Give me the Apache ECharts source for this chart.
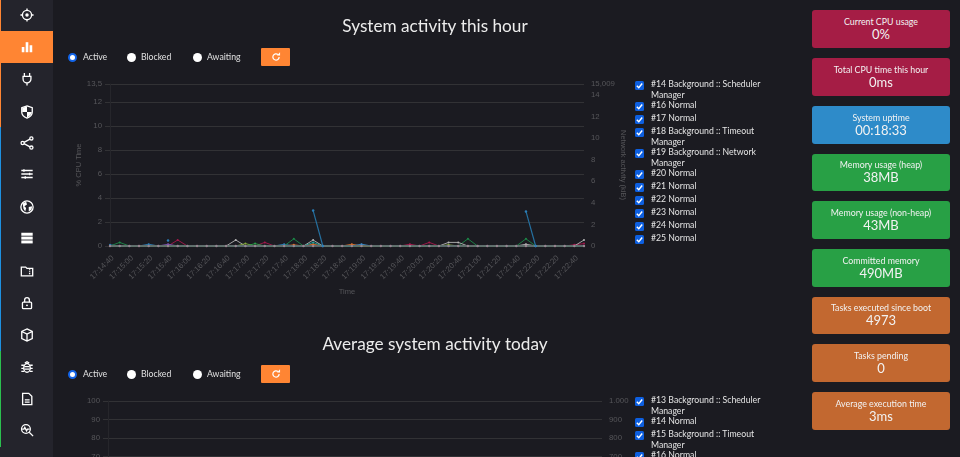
<!DOCTYPE html>
<html><head><meta charset="utf-8">
<script src="https://cdn.jsdelivr.net/npm/echarts@6/dist/echarts.min.js"></script>
<style>
html,body{margin:0;padding:0;width:960px;height:457px;overflow:hidden;background:#1b1b21;font-family:Lato,"Noto Sans",sans-serif;color:#e6e6e6}
#side{position:absolute;left:0;top:0;width:53px;height:457px;background:#24242c}
.strip{position:absolute;left:0;width:1px}
.active{position:absolute;left:0;top:31px;width:53px;height:32px;background:#ff8533}
.ic{position:absolute;left:19.5px;width:14px;height:14px}
.ic *{fill:none;stroke:#fff;stroke-width:1.5}
.ic .f{fill:#fff;stroke:none}
#c1,#c2{position:absolute;left:0;width:960px}
#c1{top:0;height:320px}
#c2{top:320px;height:340px}
.radio{position:absolute;width:9px;height:9px;border-radius:50%;background:#fff}
.radio.on{border:2px solid #1264e8;width:5px;height:5px}
.rl{position:absolute;font-size:8.7px;line-height:12px;color:#e0e0e0}
.btn{position:absolute;left:261px;width:29px;height:18px;background:#ff8533;border-radius:1px}
.btn svg{position:absolute;left:9.5px;top:4px;width:10px;height:10px}
.legend{position:absolute;left:635px;width:138px}
.row{position:relative;min-height:13px;padding-left:16px;font-size:8.7px;line-height:10.5px;color:#e4e4e4}
.cb{position:absolute;left:0;top:2px;width:9px;height:9px;background:#0d5fe0;border-radius:1.5px}
.cb svg{position:absolute;left:0;top:0;width:9px;height:9px}
.card{position:absolute;left:812px;width:138px;height:37.5px;border-radius:3px;text-align:center;color:#f2f2f2}
.card .t{font-size:8.8px;line-height:11px;padding-top:5.5px}
.card .v{font-size:13px;line-height:15px}
</style></head><body>
<div id="c1"></div><div id="c2"></div>
<div id="side"></div>
<div id="controls"></div>
<div id="legend1" class="legend" style="top:79px"></div>
<div id="legend2" class="legend" style="top:395px"></div>
<div id="cards"></div>
<script>
const categories = ['17:14:40','17:14:50','17:15:00','17:15:10','17:15:20','17:15:30','17:15:40','17:15:50','17:16:00','17:16:10','17:16:20','17:16:30','17:16:40','17:16:50','17:17:00','17:17:10','17:17:20','17:17:30','17:17:40','17:17:50','17:18:00','17:18:10','17:18:20','17:18:30','17:18:40','17:18:50','17:19:00','17:19:10','17:19:20','17:19:30','17:19:40','17:19:50','17:20:00','17:20:10','17:20:20','17:20:30','17:20:40','17:20:50','17:21:00','17:21:10','17:21:20','17:21:30','17:21:40','17:21:50','17:22:00','17:22:10','17:22:20','17:22:30','17:22:40','17:22:50'];
const t14 = [.1,0,0,0,.15,0,0,0,0,0,0,0,0,0,0,0,0,0,.15,0,0,0,0,0,0,0,0,0,0,0,0,0,0,0,0,0,0,0,0,0,0,0,0,0,0,0,0,0,0,0];
const t16 = [0,.3,0,0,0,0,0,0,0,0,0,0,0,0,0,0,0,0,0,.6,0,0,0,0,0,0,0,0,0,0,0,0,0,0,0,0,0,.6,0,0,0,0,0,.6,0,0,0,0,0,0];
const t17 = [0,0,0,0,0,0,0,.5,0,0,0,0,0,0,0,0,.3,0,0,0,0,0,0,0,0,0,0,0,0,0,0,.15,0,.3,0,0,0,0,0,0,0,0,0,0,0,0,0,0,.1,.2];
const t18 = [0,0,0,0,0,0,.15,0,0,0,0,0,0,0,0,0,0,0,0,0,0,0,0,0,0,0,0,0,0,0,0,0,0,0,0,0,0,0,0,0,0,0,0,0,0,0,0,0,0,0];
const t19 = [0,0,0,0,0,0,0,0,0,0,0,0,0,.5,0,0,0,0,0,0,0,.5,0,0,0,0,0,0,0,0,0,0,0,0,0,.3,.3,0,0,0,0,0,0,.15,0,0,0,0,0,.5];
const t20 = [0,0,0,0,0,0,0,0,0,0,0,0,0,0,.2,0,0,0,0,0,0,0,0,0,0,0,0,0,0,0,0,0,0,0,0,.1,0,0,0,0,0,0,0,0,0,0,0,0,0,0];
const t21 = [0,0,0,0,0,0,0,0,0,0,0,0,0,0,0,.2,0,0,0,0,0,0,0,0,0,0,0,0,0,0,0,0,0,0,0,0,0,0,0,0,0,0,0,0,0,0,0,0,0,0];
const t22 = [0,0,0,0,0,0,0,0,0,0,0,0,0,0,0,0,0,0,0,.1,0,.15,0,0,0,.15,0,0,0,0,0,0,0,0,0,0,0,0,0,0,0,0,0,0,0,0,0,0,0,0];
const t23 = [0,0,0,0,0,0,0,0,0,0,0,0,0,0,0,0,0,0,0,0,0,0,0,0,0,0,.15,0,0,0,0,0,0,0,0,0,0,0,0,0,0,0,0,0,0,0,0,0,0,0];
const t24 = [0,0,0,0,0,0,0,0,0,0,0,0,0,0,0,0,0,0,0,0,0,.3,0,0,0,0,0,0,0,0,0,0,0,0,0,0,0,0,0,0,0,0,0,0,0,0,0,0,0,0];
const t25 = [0,0,0,0,0,0,0,0,0,0,0,0,0,0,0,0,0,0,0,0,0,0,0,0,0,0,0,0,0,0,0,0,0,0,0,0,0,0,0,0,0,0,0,0,0,0,0,0,0,0];
const network = [null,null,null,null,null,null,.5,null,null,null,null,null,null,null,null,null,null,null,null,null,null,3.28,0,null,null,null,null,null,null,null,null,null,null,null,null,null,null,null,null,null,null,null,null,3.2,0,null,null,null,null,null];
const names1 = ['#14 Background :: Scheduler Manager','#16 Normal','#17 Normal','#18 Background :: Timeout Manager','#19 Background :: Network Manager','#20 Normal','#21 Normal','#22 Normal','#23 Normal','#24 Normal','#25 Normal'];
const names2 = ['#13 Background :: Scheduler Manager','#14 Normal','#15 Background :: Timeout Manager','#16 Normal'];
const values1 = [t14,t16,t17,t18,t19,t20,t21,t22,t23,t24,t25];
const lineColors = ['#2b7fb8','#1c8a48','#a8174c','#7d55b0','#b4b4b4','#84ab3c','#2aa04a','#d9702a','#3a8fd0','#21a8a0','#7a3c44'];
const dotColors = ['#2b7fb8','#1c8a48','#a8174c','#7d55b0','#b4b4b4','#84ab3c','#2aa04a','#d9702a','#3a8fd0','#21a8a0','#9a8490'];
const leftTicks1 = {max:13.5, interval:2};
const rightTicks1 = {max:15.009, interval:2};
const categories2 = ['00:00','00:10','00:20','00:30','00:40','00:50','01:00'];
const lowerValues = [0,0,0,0,0,0,0];
const cards = [['Current CPU usage','0%','#a51d45',10],['Total CPU time this hour','0ms','#a51d45',58],['System uptime','00:18:33','#2e8bc9',106],['Memory usage (heap)','38MB','#28a045',153.5],['Memory usage (non-heap)','43MB','#28a045',201],['Committed memory','490MB','#28a045',249],['Tasks executed since boot','4973','#c26830',296.5],['Tasks pending','0','#c26830',344],['Average execution time','3ms','#c26830',392]];

const axisGrey='#56565a', gridGrey='#323235';
const axisFont={color:axisGrey,fontSize:7.5,fontFamily:'Liberation Sans'};
function base(title,titleTop,gridTop,gridH,gridL,gridR,cats,lMax,lInt,rMax,rInt,fmt){
  return {
    animation:false, backgroundColor:'transparent',
    title:{text:title,left:430,top:titleTop,textAlign:'center',textStyle:{color:'#ececec',fontSize:17.2,fontWeight:'normal',fontFamily:'Lato'}},
    grid:{left:gridL,top:gridTop,width:gridR-gridL,height:gridH,outerBoundsMode:'none'},
    xAxis:{type:'category',boundaryGap:false,data:cats,name:'Time',nameLocation:'middle',nameGap:42,
      nameTextStyle:axisFont,
      axisLine:{lineStyle:{color:'#3a3a3e'}},axisTick:{show:false},splitLine:{show:false},
      axisLabel:{interval:1,rotate:45,margin:8,verticalAlign:'top',color:axisGrey,fontSize:7.8,fontFamily:'Liberation Sans'}},
    yAxis:[
      {type:'value',min:0,max:lMax,interval:lInt,name:'% CPU Time',nameLocation:'middle',nameGap:27,
       nameTextStyle:axisFont,
       axisLine:{show:true,lineStyle:{color:'#26262b'}},axisTick:{show:true,length:5,lineStyle:{color:gridGrey}},
       splitLine:{show:true,lineStyle:{color:gridGrey,width:1}},
       axisLabel:{margin:8,color:axisGrey,fontSize:7.8,fontFamily:'Liberation Sans',formatter:fmt}},
      {type:'value',min:0,max:rMax,interval:rInt,name:'Network activity (kiB)',nameLocation:'middle',nameGap:35,nameRotate:-90,
       nameTextStyle:axisFont,
       axisLine:{show:false},axisTick:{show:false},splitLine:{show:false},
       axisLabel:{margin:7,color:axisGrey,fontSize:7.8,fontFamily:'Liberation Sans',formatter:fmt}}
    ]
  };
}
const comma=v=>String(v).replace('.',',');
const dotted=v=>v>=1000?String(v).replace(/(\d)(\d{3})$/,'$1.$2'):String(v);
const opt1=base('System activity this hour',13,84,162,110,584,categories,leftTicks1.max,leftTicks1.interval,rightTicks1.max,rightTicks1.interval,comma);
opt1.series=values1.map((d,i)=>({name:names1[i],type:'line',data:d,yAxisIndex:0,symbol:'circle',symbolSize:i===10?2.4:2,showSymbol:true,
  lineStyle:{width:0.9,color:lineColors[i]},itemStyle:{color:dotColors[i]},z:2+i}));
opt1.series.push({name:'Network',type:'line',data:network,yAxisIndex:1,symbol:'circle',symbolSize:2.5,connectNulls:false,
  lineStyle:{width:1.2,color:'#256f9e'},itemStyle:{color:'#2b7fb8'},z:20});
echarts.init(document.getElementById('c1')).setOption(opt1);

const opt2=base('Average system activity today',10.5,81,185,108,602,categories2,100,10,1000,100,dotted);
opt2.series=[{name:names2[0],type:'line',data:lowerValues,symbol:'circle',symbolSize:2,lineStyle:{width:1,color:lineColors[0]},itemStyle:{color:dotColors[0]}}];
echarts.init(document.getElementById('c2')).setOption(opt2);

/* page chrome */
const icons=[
 '<circle cx="8" cy="8" r="5.2"/><circle class="f" cx="8" cy="8" r="2"/><path d="M8 0.5v2.3M8 13.2v2.3M.5 8h2.3M13.2 8h2.3"/>',
 '<rect class="f" x="2" y="8" width="3" height="6"/><rect class="f" x="6.5" y="2.5" width="3" height="11.5"/><rect class="f" x="11" y="6" width="3" height="8"/>',
 '<path d="M5 1v4M11 1v4"/><path d="M3.5 5h9v3a4.5 4.5 0 0 1-9 0z"/><path d="M8 12.5V15.5"/>',
 '<path d="M8 1l6 2v5c0 3.5-3 6-6 7-3-1-6-3.5-6-7V3z"/><path class="f" d="M8 1.5v6.5H2.5V3.4zM8 8h5.5c-.3 3-2.8 5.2-5.5 6.2z"/>',
 '<circle cx="3" cy="8" r="1.8"/><circle cx="13" cy="2.8" r="1.8"/><circle cx="13" cy="13.2" r="1.8"/><path d="M4.6 7.2 11.4 3.6M4.6 8.8l6.8 3.6"/>',
 '<path d="M1.5 4h13M1.5 8h13M1.5 12h13"/><path d="M4.5 2.5v3M11 6.5v3M6 10.5v3" stroke-width="2"/>',
 '<circle cx="8" cy="8" r="7"/><path class="f" d="M3 4l4-2 1 3-3 2 2 2-1 4-2-3zM10 8l4-1-1 4-3 2z"/>',
 '<rect class="f" x="1.5" y="2" width="13" height="3.4"/><rect class="f" x="1.5" y="6.4" width="13" height="3.4"/><rect class="f" x="1.5" y="10.8" width="13" height="3.4"/>',
 '<path d="M1.5 3.5h5l1.5 1.5h6.5v8.5h-13z"/><path d="M11 6v6" stroke-dasharray="1.2 1"/>',
 '<rect x="2.8" y="7" width="10.4" height="7.5" rx="1"/><path d="M5.3 7V4.5a2.7 2.7 0 0 1 5.4 0V7"/><circle class="f" cx="8" cy="10.7" r="1.1"/>',
 '<path d="M8 1l6 3v8l-6 3-6-3V4zM2 4l6 3 6-3M8 7v8"/>',
 '<ellipse cx="8" cy="9" rx="3.7" ry="5"/><path d="M5.5 3.5 8 2l2.5 1.5M1.5 6h3M11.5 6h3M1.5 9.5h3M11.5 9.5h3M1.5 13h3.5M11 13h3.5M5 7.5h6M5 10.5h6"/>',
 '<path d="M3 1.5h7l3.5 3.5v9.5h-10.5z"/><path d="M5.5 9h5.5M5.5 11.5h5.5" stroke-width="1.3"/>',
 '<circle cx="6.8" cy="6.8" r="5"/><path d="M10.5 10.5l4.5 4.5" stroke-width="2"/><path d="M2.5 7h2l1-2 2 4 1-2h2.5" stroke-width="1"/>'
];
const iconY=[15,47,79,111.5,143,174,207,238,271,303,335,367,399,430];
let html='<div class="active"></div><div class="strip" style="top:0;height:127px;background:#ff8533"></div><div class="strip" style="top:127px;height:224px;background:#1e90e0"></div><div class="strip" style="top:351px;height:96px;background:#2bbf4f"></div>';
icons.forEach((p,i)=>{html+=`<svg class="ic" viewBox="0 0 16 16" style="top:${iconY[i]-7}px">${p}</svg>`});
document.getElementById('side').innerHTML=html;

const refresh='<svg viewBox="0 0 16 16"><path d="M13 8a5 5 0 1 1-1.7-3.8" fill="none" stroke="#fff" stroke-width="2"/><path d="M9.5 5.5h5v-5z" fill="#fff"/></svg>';
let ctl='';
[57,374].forEach(y=>{
  ctl+=`<div class="radio on" style="left:68px;top:${y-4.5}px"></div><div class="rl" style="left:83px;top:${y-6}px">Active</div>`;
  ctl+=`<div class="radio" style="left:127px;top:${y-4.5}px"></div><div class="rl" style="left:141px;top:${y-6}px">Blocked</div>`;
  ctl+=`<div class="radio" style="left:193px;top:${y-4.5}px"></div><div class="rl" style="left:207px;top:${y-6}px">Awaiting</div>`;
  ctl+=`<div class="btn" style="top:${y-9}px">${refresh}</div>`;
});
document.getElementById('controls').innerHTML=ctl;

const check='<svg viewBox="0 0 10 10"><path d="M2 5.2l2.2 2.2L8 2.8" fill="none" stroke="#fff" stroke-width="1.6"/></svg>';
function fill(id,names){document.getElementById(id).innerHTML=names.map(n=>`<div class="row"><span class="cb">${check}</span>${n}</div>`).join('')}
fill('legend1',names1);fill('legend2',names2);
document.getElementById('cards').innerHTML=cards.map(c=>`<div class="card" style="top:${c[3]}px;background:${c[2]}"><div class="t">${c[0]}</div><div class="v">${c[1]}</div></div>`).join('');
</script>
</body></html>
